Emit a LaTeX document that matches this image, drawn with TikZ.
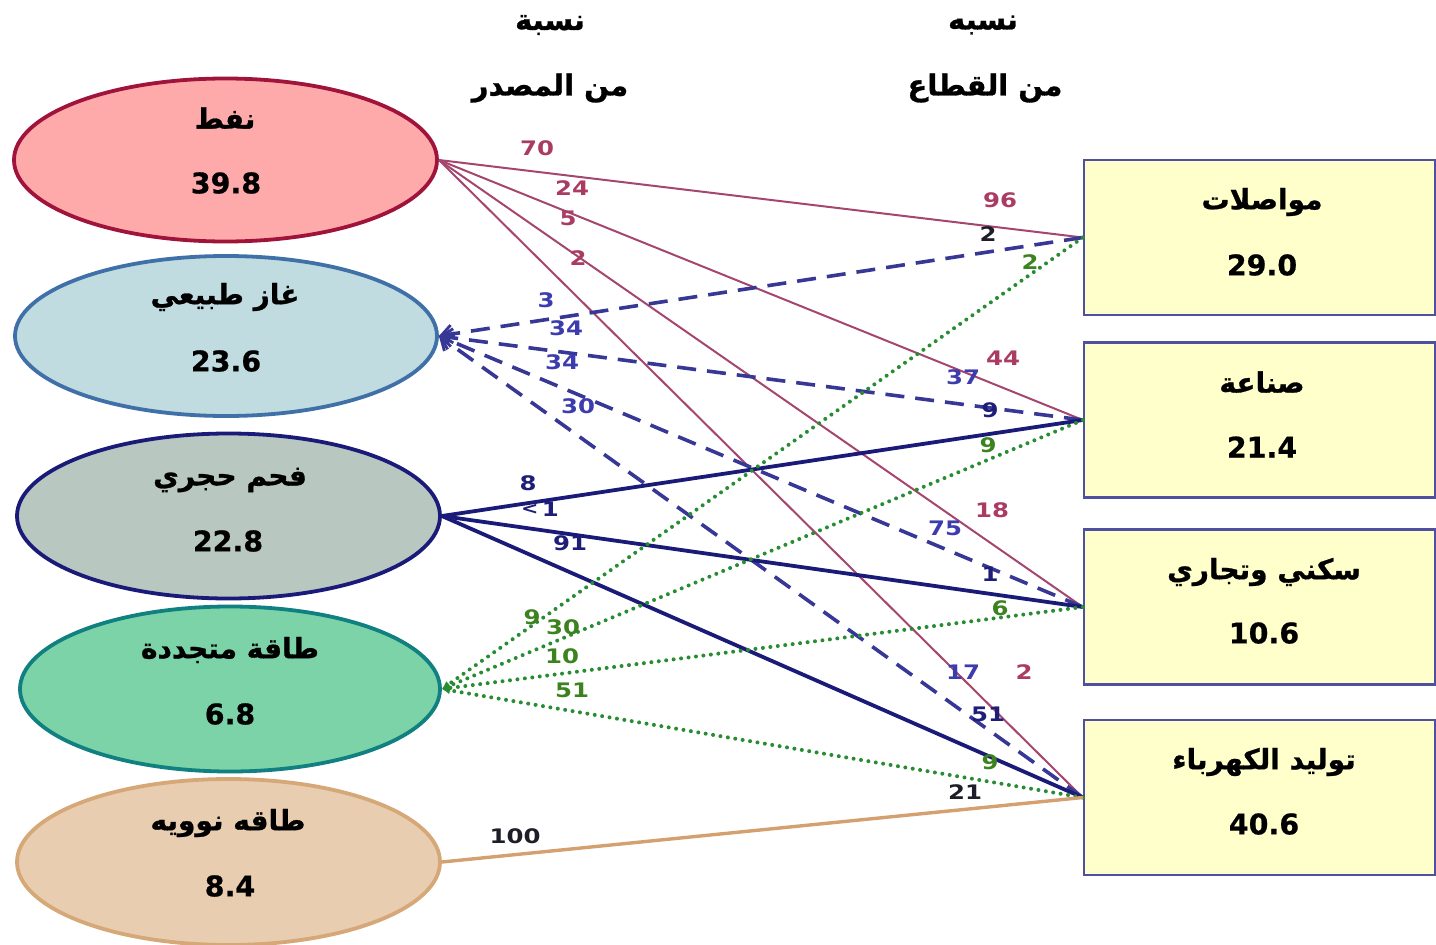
\documentclass[tikz,border=0pt]{standalone}
\usepackage{fontspec}
\setmainfont{DejaVu Sans}[BoldFeatures={FakeBold=0.6}]
\newfontfamily\arabicfont[Script=Arabic,BoldFeatures={FakeBold=1.0}]{DejaVu Sans}
\newfontfamily\labfont[FakeStretch=1.22]{DejaVu Sans Bold}
\TeXXeTstate=1
\usetikzlibrary{shapes.geometric,arrows.meta}
\definecolor{oilfill}{RGB}{255,170,170}
\definecolor{oildraw}{RGB}{160,20,60}
\definecolor{gasfill}{RGB}{193,220,224}
\definecolor{gasdraw}{RGB}{64,112,168}
\definecolor{coalfill}{RGB}{184,200,192}
\definecolor{coaldraw}{RGB}{26,26,120}
\definecolor{renfill}{RGB}{125,211,168}
\definecolor{rendraw}{RGB}{16,128,128}
\definecolor{nucfill}{RGB}{232,205,176}
\definecolor{nucdraw}{RGB}{214,168,120}
\definecolor{boxfill}{RGB}{255,255,204}
\definecolor{boxdraw}{RGB}{80,80,160}
\definecolor{oilln}{RGB}{165,70,110}
\definecolor{oillab}{RGB}{170,60,100}
\definecolor{gasln}{RGB}{55,55,150}
\definecolor{gaslab}{RGB}{60,60,175}
\definecolor{coalln}{RGB}{26,26,120}
\definecolor{coallab}{RGB}{30,30,120}
\definecolor{renln}{RGB}{40,140,50}
\definecolor{renlab}{RGB}{60,130,30}
\definecolor{nucln}{RGB}{212,160,112}
\definecolor{darklab}{RGB}{30,30,40}
\begin{document}
\begin{tikzpicture}[x=1pt,y=-1pt,
  src/.style={ellipse,line width=3.8pt,inner sep=0pt},
  sector/.style={rectangle,draw=boxdraw,fill=boxfill,line width=2.4pt,inner sep=0pt,minimum width=351pt,minimum height=155pt},
  artext/.style={font=\fontsize{28}{32}\selectfont\bfseries\arabicfont,inner sep=0pt},
  hdtext/.style={font=\fontsize{29}{33}\selectfont\bfseries\arabicfont,inner sep=0pt},
  numtext/.style={font=\fontsize{28.5}{32}\selectfont\bfseries,inner sep=0pt},
  lab/.style={font=\fontsize{20}{23}\selectfont\labfont,inner sep=0pt},
  oilline/.style={draw=oilln,line width=2pt},
  gasline/.style={draw=gasln,line width=3.6pt,dash pattern=on 19pt off 11pt,-{Straight Barb[length=11pt,width=18pt,line width=2.8pt]}},
  coalline/.style={draw=coalln,line width=3.8pt},
  renline/.style={draw=renln,line width=4pt,line cap=round,dash pattern=on 0pt off 7.5pt,-{Latex[length=8pt,width=8pt]}},
  nucline/.style={draw=nucln,line width=3.4pt}]
\useasboundingbox (0,0) rectangle (1436,945);

% headers
\node[hdtext] (h1a) at (550,25) {\beginR نسبة\endR};
\node[hdtext] (h1b) at (550,88) {\beginR من المصدر\endR};
\node[hdtext] (h2a) at (983,25) {\beginR نسبه\endR};
\node[hdtext] (h2b) at (985,88) {\beginR من القطاع\endR};

% sources
\node[src,draw=oildraw,fill=oilfill,minimum width=423pt,minimum height=163pt] (oil) at (225.5,160) {};
\node[src,draw=gasdraw,fill=gasfill,minimum width=422pt,minimum height=160pt] (gas) at (226,336) {};
\node[src,draw=coaldraw,fill=coalfill,minimum width=423pt,minimum height=165pt] (coal) at (228.5,516) {};
\node[src,draw=rendraw,fill=renfill,minimum width=420pt,minimum height=165pt] (ren) at (230,689) {};
\node[src,draw=nucdraw,fill=nucfill,minimum width=423pt,minimum height=166pt] (nuc) at (228.5,862) {};

\node[artext] (oiln) at (225,118) {\beginR نفط\endR};
\node[numtext] (oilv) at (226,183) {39.8};
\node[artext] (gasn) at (225,297) {\beginR غاز طبيعي\endR};
\node[numtext] (gasv) at (226,361) {23.6};
\node[artext] (coaln) at (230,480) {\beginR فحم حجري\endR};
\node[numtext] (coalv) at (228,541) {22.8};
\node[artext] (renn) at (230,650) {\beginR طاقة متجددة\endR};
\node[numtext] (renv) at (230,714) {6.8};
\node[artext] (nucn) at (228,823) {\beginR طاقه نوويه\endR};
\node[numtext] (nucv) at (230,886) {8.4};

% sectors
\node[sector] (trans) at (1259.5,237.5) {};
\node[sector] (ind) at (1259.5,420) {};
\node[sector] (res) at (1259.5,607) {};
\node[sector] (elec) at (1259.5,797.5) {};

\node[artext] (transn) at (1262,202) {\beginR مواصلات\endR};
\node[numtext] (transv) at (1262,265) {29.0};
\node[artext] (indn) at (1262,382) {\beginR صناعة\endR};
\node[numtext] (indv) at (1262,447) {21.4};
\node[artext] (resn) at (1264,572) {\beginR سكني وتجاري\endR};
\node[numtext] (resv) at (1264,633) {10.6};
\node[artext] (elecn) at (1264,762) {\beginR توليد الكهرباء\endR};
\node[numtext] (elecv) at (1264,824) {40.6};

% connectors
\draw[oilline] (oil.east) -- (trans.west);
\draw[oilline] (oil.east) -- (ind.west);
\draw[oilline] (oil.east) -- (res.west);
\draw[oilline] (oil.east) -- (elec.west);

\draw[gasline] (trans.west) -- (gas.east);
\draw[gasline] (ind.west) -- (gas.east);
\draw[gasline] (res.west) -- (gas.east);
\draw[gasline] (elec.west) -- (gas.east);

\draw[coalline] (coal.east) -- (ind.west);
\draw[coalline] (coal.east) -- (res.west);
\draw[coalline] (coal.east) -- (elec.west);

\draw[renline] (trans.west) -- (ren.east);
\draw[renline] (ind.west) -- (ren.east);
\draw[renline] (res.west) -- (ren.east);
\draw[renline] (elec.west) -- (ren.east);

\draw[nucline] (nuc.east) -- (elec.west);

% labels: oil
\node[lab,text=oillab] (o1) at (537,148) {70};
\node[lab,text=oillab] (o2) at (572,188) {24};
\node[lab,text=oillab] (o3) at (568,218) {5};
\node[lab,text=oillab] (o4) at (578,258) {2};
\node[lab,text=oillab] (o5) at (1000,200) {96};
\node[lab,text=oillab] (o6) at (1003,358) {44};
\node[lab,text=oillab] (o7) at (992,510) {18};
\node[lab,text=oillab] (o8) at (1024,672) {2};
% labels: gas
\node[lab,text=gaslab] (g1) at (546,300) {3};
\node[lab,text=gaslab] (g2) at (566,328) {34};
\node[lab,text=gaslab] (g3) at (562,362) {34};
\node[lab,text=gaslab] (g4) at (578,406) {30};
\node[lab,text=darklab] (g5) at (988,234) {2};
\node[lab,text=gaslab] (g6) at (963,377) {37};
\node[lab,text=gaslab] (g7) at (945,528) {75};
\node[lab,text=gaslab] (g8) at (963,672) {17};
% labels: coal
\node[lab,text=coallab] (c1) at (528,483) {8};
\node[lab,text=coallab] (c2) at (540,509) {\raisebox{2pt}{\fontsize{17}{20}\selectfont<}\,1};
\node[lab,text=coallab] (c3) at (570,543) {91};
\node[lab,text=coallab] (c4) at (990,410) {9};
\node[lab,text=coallab] (c5) at (990,574) {1};
\node[lab,text=coallab] (c6) at (988,714) {51};
% labels: renewable
\node[lab,text=renlab] (r1) at (532,617) {9};
\node[lab,text=renlab] (r2) at (563,627) {30};
\node[lab,text=renlab] (r3) at (562,656) {10};
\node[lab,text=renlab] (r4) at (572,690) {51};
\node[lab,text=renlab] (r5) at (1030,262) {2};
\node[lab,text=renlab] (r6) at (988,445) {9};
\node[lab,text=renlab] (r7) at (1000,608) {6};
\node[lab,text=renlab] (r8) at (990,762) {9};
% labels: nuclear
\node[lab,text=darklab] (n1) at (515,836) {100};
\node[lab,text=darklab] (n2) at (965,792) {21};
\end{tikzpicture}
\end{document}
